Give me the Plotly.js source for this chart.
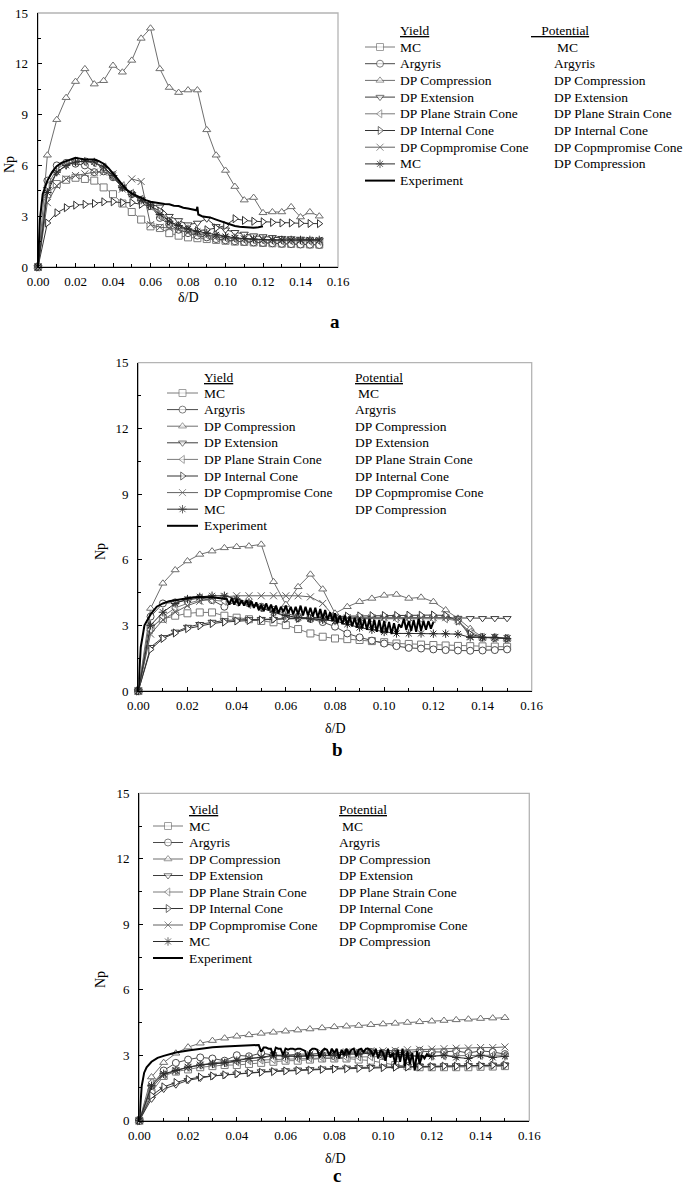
<!DOCTYPE html>
<html><head><meta charset="utf-8">
<script src="https://cdn.plot.ly/plotly-3.0.1.min.js"></script>
<style>html,body{margin:0;padding:0;background:#fff}</style>
</head><body><div id="chart" style="width:685px;height:1188px"></div>
<script>
// ---------- data ----------
const xGrid = [0,0.005,0.01,0.015,0.02,0.025,0.03,0.035,0.04,0.045,0.05,0.055,0.06,0.065,0.07,0.075,0.08,0.085,0.09,0.095,0.1,0.105,0.11,0.115,0.12,0.125,0.13,0.135,0.14,0.145,0.15];

const yieldNames = ['MC','Argyris','DP Compression','DP Extension','DP Plane Strain Cone','DP Internal Cone','DP Copmpromise Cone','MC','Experiment'];
const potentialNames = ['MC','Argyris','DP Compression','DP Extension','DP Plane Strain Cone','DP Internal Cone','DP Copmpromise Cone','DP Compression'];
const panelLetters = ['a','b','c'];
const xTitle = 'δ/D';
const yTitle = 'Np';

// panel a
const mcA  = [0,4.3,4.9,5.15,5.27,5.2,5.1,4.7,4.3,3.75,3.25,2.8,2.4,2.3,2.0,1.85,1.75,1.7,1.65,1.6,1.55,1.5,1.48,1.45,1.42,1.4,1.38,1.36,1.35,1.33,1.32];
const argA = [0,5.1,6.0,6.15,6.1,6.0,5.6,5.65,5.3,4.7,4.3,3.95,3.6,2.9,2.5,2.2,2.0,1.85,1.75,1.65,1.58,1.52,1.48,1.45,1.42,1.4,1.37,1.35,1.33,1.32,1.3];
const dpcA = [0,6.6,8.7,10.0,10.95,11.7,10.8,11.0,11.9,11.5,12.2,13.5,14.1,11.7,10.6,10.3,10.45,10.45,8.1,6.6,5.7,4.75,3.95,4.1,3.2,3.25,3.25,3.55,2.95,3.25,3.0];
const dpeA = [0,4.6,5.6,6.0,6.2,6.25,6.15,5.85,5.3,4.7,4.3,4.0,3.7,3.55,3.0,2.75,2.5,2.6,2.85,2.4,2.2,2.05,1.95,1.85,1.8,1.75,1.7,1.68,1.65,1.62,1.6];
const dppA = [0,4.8,5.8,6.1,6.25,6.2,6.15,5.9,5.4,4.8,4.35,4.0,3.6,3.0,2.6,2.35,2.15,2.0,1.9,1.8,1.72,1.66,1.62,1.6,1.58,1.56,1.55,1.55,1.54,1.53,1.52];
const dpiA = [0,2.6,3.2,3.5,3.65,3.7,3.75,3.85,3.85,3.8,3.8,3.7,3.6,3.3,2.7,2.4,2.2,2.15,2.2,2.3,2.45,2.85,2.75,2.7,2.67,2.63,2.6,2.6,2.58,2.57,2.56];
const dpxA = [0,3.8,4.8,5.2,5.4,5.5,5.6,5.6,5.5,4.6,5.2,5.05,2.5,2.35,2.3,2.2,2.05,1.95,1.85,1.78,1.72,1.68,1.65,1.62,1.6,1.6,1.58,1.57,1.57,1.56,1.56];
const mcsA = [0,4.4,5.6,6.0,6.2,6.25,6.2,5.9,5.4,4.7,4.3,3.95,3.65,3.1,2.7,2.45,2.25,2.1,2.0,1.9,1.8,1.72,1.68,1.64,1.62,1.6,1.6,1.6,1.6,1.6,1.6];
const expAx = [0,0.001,0.0025,0.005,0.0075,0.01,0.0125,0.015,0.0175,0.02,0.0225,0.025,0.0275,0.03,0.0325,0.035,0.0375,0.04,0.0425,0.045,0.0475,0.05,0.0525,0.055,0.0575,0.06,0.0625,0.065,0.0675,0.07,0.0725,0.075,0.0775,0.08,0.0825,0.0845,0.085,0.0855,0.0875,0.09,0.0925,0.095,0.0975,0.1,0.1025,0.105,0.1075,0.11,0.1125,0.115,0.1175,0.12];
const expAy = [0,2.8,4.3,5.1,5.6,5.95,6.15,6.25,6.35,6.45,6.4,6.35,6.35,6.35,6.25,6.1,5.85,5.55,5.2,4.85,4.55,4.35,4.2,4.05,3.95,3.85,3.8,3.75,3.72,3.7,3.62,3.6,3.5,3.45,3.38,3.35,3.55,3.1,3.0,2.95,2.9,2.8,2.7,2.6,2.5,2.42,2.38,2.35,2.33,2.32,2.35,2.4];

// panel b
const mcB  = [0,2.9,3.3,3.44,3.55,3.59,3.59,3.44,3.35,3.28,3.2,3.14,3.01,2.83,2.63,2.48,2.4,2.37,2.33,2.28,2.23,2.17,2.15,2.12,2.1,2.08,2.06,2.05,2.04,2.03,2.02];
const argB = [0,3.4,4.0,4.05,4.15,4.25,4.15,3.85,4.1,4.0,3.85,3.7,3.55,3.4,3.3,3.15,2.94,2.63,2.45,2.3,2.17,2.05,1.97,1.94,1.9,1.87,1.85,1.84,1.85,1.87,1.9];
const dpcB = [0,3.77,4.92,5.53,5.94,6.24,6.39,6.54,6.59,6.62,6.70,4.99,3.95,4.76,5.33,4.65,3.55,3.85,4.08,4.23,4.37,4.41,4.23,4.28,4.08,3.70,3.32,2.85,2.45,2.45,2.4];
const dpeB = [0,2.0,2.45,2.7,2.92,3.05,3.15,3.22,3.25,3.27,3.28,3.28,3.3,3.3,3.3,3.3,3.3,3.3,3.3,3.32,3.32,3.33,3.33,3.35,3.35,3.35,3.33,3.32,3.32,3.32,3.32];
const dppB = [0,2.8,3.4,3.8,4.0,4.15,4.15,4.1,4.05,3.95,3.8,3.6,3.4,3.35,3.3,3.3,3.3,3.3,3.3,3.3,3.3,3.3,3.3,3.3,3.3,3.3,3.2,2.7,2.45,2.42,2.4];
const dpiB = [0,1.9,2.4,2.65,2.85,2.98,3.08,3.15,3.2,3.22,3.25,3.28,3.3,3.32,3.35,3.38,3.4,3.42,3.43,3.44,3.45,3.45,3.46,3.46,3.47,3.45,3.2,2.6,2.45,2.42,2.4];
const dpxB = [0,2.6,3.25,3.6,3.9,4.1,4.25,4.3,4.35,4.35,4.35,4.35,4.35,4.35,4.3,4.0,3.35,3.35,3.35,3.35,3.35,3.35,3.35,3.35,3.35,3.35,3.25,2.5,2.45,2.45,2.4];
const mcsB = [0,3.0,3.6,4.0,4.2,4.3,4.35,4.35,4.2,4.05,3.8,3.6,3.45,3.35,3.3,3.25,3.2,3.05,2.9,2.8,2.7,2.63,2.63,2.63,2.62,2.62,2.6,2.45,2.45,2.45,2.4];
const expBx = [0,0.001,0.0025,0.005,0.0075,0.01,0.0125,0.015,0.0175,0.02,0.0225,0.025,0.0275,0.03,0.0325,0.035,
  0.036,0.037,0.038,0.039,0.040,0.041,0.042,0.043,0.044,0.045,
  0.046,0.047,0.048,0.049,0.050,0.051,0.052,0.053,0.054,0.055,
  0.056,0.057,0.058,0.059,0.060,0.061,0.062,0.063,0.064,0.065,
  0.066,0.067,0.068,0.069,0.070,0.071,0.072,0.073,0.074,0.075,
  0.076,0.077,0.078,0.079,0.080,0.081,0.082,0.083,0.084,0.085,
  0.086,0.087,0.088,0.089,0.090,0.091,0.092,0.093,0.094,0.095,
  0.096,0.097,0.098,0.099,0.100,0.101,0.102,0.103,0.104,0.105,
  0.106,0.107,0.108,0.109,0.110,0.111,0.112,0.113,0.114,0.115,
  0.116,0.117,0.118,0.119,0.120];
const expBy = [0,2.0,3.0,3.5,3.85,4.0,4.1,4.15,4.2,4.25,4.28,4.3,4.3,4.28,4.25,4.22,
  4.2,3.95,4.25,3.95,4.2,3.9,4.15,3.9,4.15,3.85,
  4.1,3.8,4.05,3.7,3.95,3.65,4.0,3.7,3.95,3.6,
  3.9,3.55,3.85,3.6,3.9,3.55,3.85,3.5,3.85,3.5,
  3.9,3.45,3.85,3.45,3.8,3.4,3.8,3.35,3.75,3.3,
  3.7,3.25,3.6,3.2,3.55,3.1,3.45,3.05,3.45,3.0,
  3.4,2.95,3.35,2.9,3.35,2.85,3.3,2.8,3.3,2.75,
  3.25,2.7,3.25,2.65,3.2,2.65,3.15,2.6,3.1,2.6,
  3.05,2.9,3.3,2.8,3.2,2.75,3.25,2.7,3.3,2.75,
  3.2,2.8,3.2,2.85,3.15];

// panel c
const mcC  = [0,1.3,2.05,2.25,2.35,2.45,2.5,2.55,2.55,2.6,2.65,2.7,2.75,2.75,2.8,2.85,2.85,2.85,2.8,2.75,2.65,2.55,2.5,2.45,2.45,2.45,2.45,2.45,2.47,2.48,2.5];
const argC = [0,1.6,2.3,2.65,2.8,2.9,2.85,2.75,3.0,2.95,3.1,3.0,3.0,2.95,2.95,3.0,2.95,3.1,3.1,3.15,3.1,3.15,3.1,3.2,3.15,3.15,3.2,3.1,3.2,3.15,3.05];
const dpcC = [0,2.0,2.66,3.09,3.37,3.55,3.67,3.78,3.87,3.93,4.0,4.05,4.1,4.15,4.2,4.25,4.3,4.33,4.36,4.4,4.43,4.46,4.5,4.53,4.56,4.59,4.62,4.65,4.68,4.7,4.72];
const dpeC = [0,1.0,1.45,1.65,1.85,1.95,2.05,2.1,2.15,2.2,2.25,2.28,2.3,2.33,2.35,2.38,2.4,2.42,2.44,2.45,2.47,2.48,2.49,2.5,2.5,2.52,2.52,2.53,2.54,2.55,2.55];
const dppC = [0,1.75,2.1,2.3,2.45,2.55,2.6,2.65,2.7,2.75,2.78,2.8,2.82,2.85,2.87,2.88,2.9,2.9,2.92,2.93,2.94,2.95,2.95,2.96,2.97,2.97,2.98,2.98,2.99,3.0,3.0];
const dpiC = [0,1.15,1.55,1.75,1.9,2.0,2.05,2.1,2.15,2.2,2.22,2.25,2.28,2.3,2.32,2.35,2.37,2.38,2.4,2.42,2.43,2.45,2.46,2.47,2.48,2.5,2.5,2.52,2.53,2.54,2.55];
const dpxC = [0,1.5,2.1,2.3,2.45,2.55,2.65,2.7,2.8,2.85,2.9,2.95,3.0,3.05,3.05,3.1,3.1,3.15,3.15,3.2,3.2,3.22,3.25,3.27,3.28,3.3,3.32,3.33,3.35,3.35,3.38];
const mcsC = [0,1.6,2.15,2.3,2.45,2.55,2.6,2.65,2.75,2.85,2.9,3.0,2.95,2.95,3.0,3.0,3.0,3.05,3.05,3.1,3.0,3.05,3.0,2.95,2.95,3.0,2.9,2.85,3.0,2.9,2.95];
const expCx = [0,0.0005,0.001,0.002,0.003,0.005,0.0075,0.01,0.0125,0.015,0.02,0.025,0.03,0.035,0.04,0.045,0.048,
  0.049,0.050,0.051,0.052,0.053,0.054,0.055,0.056,0.057,0.058,
  0.059,0.060,0.061,0.062,0.063,0.064,0.065,0.066,0.067,0.068,
  0.069,0.070,0.071,0.072,0.073,0.074,0.075,0.076,0.077,0.078,
  0.079,0.080,0.081,0.082,0.083,0.084,0.085,0.086,0.087,0.088,
  0.089,0.090,0.091,0.092,0.093,0.094,0.095,0.096,0.097,0.098,
  0.099,0.100,0.101,0.102,0.103,0.104,0.105,0.106,0.107,0.108,
  0.109,0.110,0.111,0.112,0.113,0.114,0.115,0.116,0.117,0.118,
  0.119,0.120];
const expCy = [0,0.8,1.6,2.2,2.45,2.7,2.88,2.97,3.05,3.12,3.22,3.3,3.36,3.4,3.43,3.45,3.47,
  3.47,3.15,3.35,3.35,3.3,3.3,2.95,3.35,3.3,3.3,
  3.0,3.3,3.25,3.3,3.3,3.25,3.3,3.3,3.25,3.2,
  2.8,3.2,3.3,3.3,3.25,2.9,3.2,3.3,3.25,3.0,
  3.3,3.1,3.3,2.85,3.25,3.0,3.3,3.05,3.25,3.3,
  2.95,3.25,3.3,3.15,3.3,3.3,3.2,2.95,3.3,2.85,
  3.25,3.1,2.75,3.3,2.9,3.1,2.6,3.25,2.7,3.3,
  2.5,3.2,2.6,3.1,2.3,3.2,2.6,3.0,2.85,3.05,
  2.95,2.95];

// ---------- styles ----------
const FONT = '"Liberation Serif", "Times New Roman", serif';
const symbols = ['square','circle','triangle-up','triangle-down','triangle-left','triangle-right','x-thin','asterisk'];
const colors  = ['#7a7a7a','#4a4a4a','#6e6e6e','#3c3c3c','#7a7a7a','#333333','#606060','#2a2a2a'];
const lineOnly = {'x-thin':true,'asterisk':true};

const panels = [
  {series:[mcA,argA,dpcA,dpeA,dppA,dpiA,dpxA,mcsA], ex:expAx, ey:expAy, xa:'x',  ya:'y',
   xd:[38/685,338/685], yd:[1-267/1188,1-13/1188],
   leg:{x0:365,x1:395,tx:398,px:552,pHead:'<u>\u00a0\u00a0\u00a0Potential</u>',phx:529,hy:30,ry0:47,dy:16.7},
   np:[9,165], dd:[188,297], let:[335,321]},
  {series:[mcB,argB,dpcB,dpeB,dppB,dpiB,dpxB,mcsB], ex:expBx, ey:expBy, xa:'x2', ya:'y2',
   xd:[138.3/685,531.7/685], yd:[1-691/1188,1-362.7/1188],
   leg:{x0:167,x1:198,tx:202,px:353,pHead:'<u>Potential</u>',phx:353,hy:377,ry0:393,dy:16.6},
   np:[100,552], dd:[335,728], let:[337,749]},
  {series:[mcC,argC,dpcC,dpeC,dppC,dpiC,dpxC,mcsC], ex:expCx, ey:expCy, xa:'x3', ya:'y3',
   xd:[139.3/685,529.3/685], yd:[1-1120.7/1188,1-793.3/1188],
   leg:{x0:153,x1:183,tx:187,px:337,pHead:'<u>Potential</u>',phx:337,hy:809,ry0:826,dy:16.5},
   np:[100,980], dd:[335,1158], let:[337,1175]}
];

function markerFor(i){
  const s = symbols[i];
  if(lineOnly[s]) return {symbol:s, size:7, color:colors[i], line:{color:colors[i], width:1}};
  return {symbol:s, size:7, color:'#ffffff', line:{color:colors[i], width:1}};
}

const traces = [];
const annotations = [];
const shapes = [];
const layout = {
  width:685, height:1188, margin:{l:0,r:0,t:0,b:0,pad:0},
  paper_bgcolor:'#ffffff', plot_bgcolor:'rgba(0,0,0,0)', showlegend:false,
  font:{family:FONT, color:'#000'},
  xaxis4:{domain:[0,1], range:[0,685], visible:false, anchor:'y4', fixedrange:true},
  yaxis4:{domain:[0,1], range:[1188,0], visible:false, anchor:'x4', fixedrange:true}
};

panels.forEach((p, pi) => {
  const xk = p.xa === 'x' ? 'xaxis' : 'xaxis' + p.xa.slice(1);
  const yk = p.ya === 'y' ? 'yaxis' : 'yaxis' + p.ya.slice(1);
  layout[xk] = {
    domain:p.xd, anchor:p.ya, range:[0,0.16], tick0:0, dtick:0.02, tickformat:'.2f',
    ticks:'inside', ticklen:4, tickwidth:1, tickcolor:'#000',
    minor:{dtick:0.01, ticks:'inside', ticklen:3, tickwidth:1, tickcolor:'#000', showgrid:false},
    showline:true, linecolor:'#000', linewidth:1.3, showgrid:false, zeroline:false,
    tickfont:{family:FONT, size:13, color:'#000'}, ticklabelstandoff:2, fixedrange:true
  };
  layout[yk] = {
    domain:p.yd, anchor:p.xa, range:[0,15], tick0:0, dtick:3,
    ticks:'inside', ticklen:4, tickwidth:1, tickcolor:'#000',
    minor:{dtick:1.5, ticks:'inside', ticklen:3, tickwidth:1, tickcolor:'#000', showgrid:false},
    showline:true, linecolor:'#000', linewidth:1.3, showgrid:false, zeroline:false,
    tickfont:{family:FONT, size:13, color:'#000'}, ticklabelstandoff:6, fixedrange:true
  };
  shapes.push({type:'rect', xref:p.xa+' domain', yref:p.ya+' domain', x0:0, x1:1, y0:0, y1:1,
               line:{color:'#b4b4b4', width:1.3}, layer:'below'});

  p.series.forEach((ys, i) => {
    traces.push({type:'scatter', mode:'lines+markers', x:xGrid, y:ys, xaxis:p.xa, yaxis:p.ya,
      line:{color:colors[i], width:1}, marker:markerFor(i), cliponaxis:false, hoverinfo:'skip'});
  });
  traces.push({type:'scatter', mode:'lines', x:p.ex, y:p.ey, xaxis:p.xa, yaxis:p.ya,
    line:{color:'#000', width:2}, hoverinfo:'skip'});

  // legend block (drawn on page-pixel helper axes)
  const L = p.leg;
  const txt = (x, y, t, anchor, extra) => Object.assign({xref:'x4', yref:'y4', x:x, y:y, text:t,
    showarrow:false, xanchor:anchor||'left', yanchor:'middle', font:{family:FONT, size:13.5, color:'#000'}}, extra||{});
  annotations.push(txt(L.tx, L.hy, '<u>Yield</u>'));
  annotations.push(txt(L.phx, L.hy, L.pHead));
  yieldNames.forEach((nm, i) => {
    const ry = L.ry0 + L.dy * i;
    if (i < symbols.length) {
      const m = markerFor(i);
      traces.push({type:'scatter', mode:'lines+markers', x:[L.x0,(L.x0+L.x1)/2,L.x1], y:[ry,ry,ry],
        xaxis:'x4', yaxis:'y4', line:{color:colors[i], width:1},
        marker:Object.assign({}, m, {size:[0,7,0]}), hoverinfo:'skip', cliponaxis:false});
      annotations.push(txt(L.px + (potentialNames[i]==='MC' ? 3 : 0), ry, potentialNames[i]));
    } else {
      traces.push({type:'scatter', mode:'lines', x:[L.x0,L.x1], y:[ry,ry], xaxis:'x4', yaxis:'y4',
        line:{color:'#000', width:2}, hoverinfo:'skip', cliponaxis:false});
    }
    annotations.push(txt(L.tx, ry, nm));
  });

  annotations.push(txt(p.np[0], p.np[1], yTitle, 'center', {textangle:-90, font:{family:FONT, size:14, color:'#000'}}));
  annotations.push(txt(p.dd[0], p.dd[1], xTitle, 'center', {font:{family:FONT, size:14, color:'#000'}}));
  annotations.push(txt(p.let[0], p.let[1], '<b>'+panelLetters[pi]+'</b>', 'center', {font:{family:FONT, size:19, color:'#000'}}));
});

layout.annotations = annotations;
layout.shapes = shapes;

Plotly.newPlot('chart', traces, layout, {staticPlot:true, displayModeBar:false});
</script>
</body></html>
